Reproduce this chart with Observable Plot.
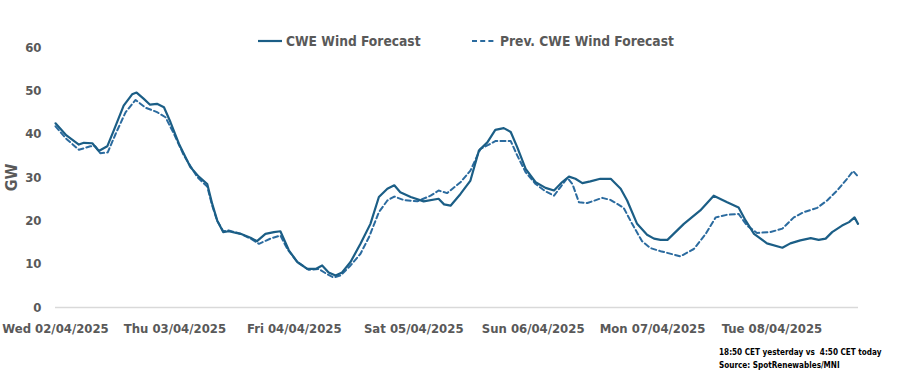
<!DOCTYPE html>
<html>
<head>
<meta charset="utf-8">
<script src="https://cdn.jsdelivr.net/npm/d3@7"></script>
<script src="https://cdn.jsdelivr.net/npm/@observablehq/plot@0.6"></script>
<style>
  body { margin: 0; background: #fff; }
  #wrap { position: relative; width: 900px; height: 373px; overflow: hidden;
          font-family: "Liberation Sans Narrow", "Arial Narrow", "DejaVu Sans Condensed", sans-serif; }
  .leg { position: absolute; top: 33px; display: flex; align-items: center; font-weight: bold;
         font-size: 13.7px; color: #595959; white-space: nowrap; }
  .leg svg { margin-right: 4px; }
  #caption { position: absolute; left: 719px; top: 346px; font-size: 8.1px; font-weight: bold;
             color: #000; line-height: 13px; white-space: pre; }
</style>
</head>
<body>
<div id="wrap">
  <div id="chart"></div>
  <div class="leg" id="leg1" style="left:258px"></div>
  <div class="leg" id="leg2" style="left:472px"></div>
  <div id="caption"></div>
</div>
<script>
// ---- Data (hours since Wed 02/04/2025 00:00, GW) ----
const seriesNames = ["CWE Wind Forecast", "Prev. CWE Wind Forecast"];
const startDate = "2025-04-02T00:00:00Z";
const dayTickHours = [0, 24, 48, 72, 96, 120, 144];
const endHour = 161.4;

const currHours = [0, 2.2, 4.7, 5.7, 7.4, 8.7, 10.4, 11.7, 13.7, 15.4, 16.3, 17.7, 19.0, 20.4, 21.8, 23.1,
  24.8, 27.1, 28.8, 30.5, 31.5, 32.5, 33.7, 34.8, 37.2, 39.2, 40.5, 42.2, 43.9, 45.2, 46.9, 48.6,
  50.6, 52.3, 53.6, 54.9, 56.3, 57.6, 59.3, 61.3, 63.3, 65.0, 66.7, 68.1, 69.3, 71.4, 74.0, 77.0,
  78.1, 79.4, 81.4, 83.4, 85.1, 86.8, 88.4, 90.1, 91.5, 92.8, 94.5, 96.5, 98.5, 100.2, 101.8, 103.2,
  104.5, 105.9, 107.5, 109.5, 111.6, 113.6, 114.9, 116.9, 118.9, 120.3, 121.6, 123.0, 126.3, 129.6,
  132.3, 135.0, 137.3, 138.7, 140.4, 143.0, 146.1, 147.7, 149.7, 151.8, 153.4, 154.8, 156.1, 158.1,
  159.5, 160.6, 161.3];
const currValues = [42.5, 39.7, 37.6, 38.0, 37.9, 36.1, 37.2, 40.8, 46.6, 49.2, 49.6, 48.2, 46.8, 47.0, 46.2, 42.8,
  37.8, 32.4, 30.2, 28.5, 23.9, 20.1, 17.4, 17.6, 17.0, 16.1, 15.3, 17.0, 17.4, 17.6, 13.2, 10.5,
  8.9, 8.9, 9.7, 8.1, 7.4, 8.1, 10.5, 14.7, 19.3, 25.5, 27.4, 28.2, 26.6, 25.5, 24.5, 25.1,
  23.8, 23.5, 26.2, 29.3, 36.2, 38.1, 41.0, 41.4, 40.5, 37.0, 32.0, 28.9, 27.6, 27.0, 28.9, 30.2,
  29.7, 28.7, 29.1, 29.7, 29.7, 27.4, 24.7, 19.3, 16.8, 15.9, 15.6, 15.6, 19.3, 22.4,
  25.8, 24.3, 23.1, 20.1, 17.0, 14.8, 13.8, 14.8, 15.5, 16.0, 15.6, 15.9, 17.4, 18.9,
  19.7, 20.8, 19.3];

const prevHours = [0, 2.2, 4.7, 7.0, 8.0, 9.0, 10.5, 12.1, 14.1, 16.1, 18.1, 20.4, 22.1, 23.8, 25.8, 28.5,
  30.5, 31.5, 32.5, 33.7, 34.8, 37.2, 39.2, 40.9, 43.2, 45.2, 46.6, 48.6, 50.9, 52.9, 54.3, 55.9,
  57.3, 59.3, 61.3, 63.0, 65.0, 66.7, 68.1, 70.0, 72.7, 75.4, 77.0, 78.7, 81.4, 83.4, 85.4, 86.8,
  88.4, 91.5, 92.8, 94.5, 96.5, 98.5, 100.2, 101.5, 102.9, 103.9, 105.2, 106.9, 109.9, 111.6, 114.2,
  115.9, 117.9, 119.6, 121.6, 122.3, 125.6, 128.3, 130.7, 132.7, 135.0, 137.3, 139.0, 141.0, 143.7,
  146.1, 148.4, 150.4, 153.1, 155.1, 157.1, 159.1, 160.3, 161.1];
const prevValues = [41.8, 38.9, 36.4, 37.2, 37.2, 35.6, 35.8, 40.1, 45.1, 47.9, 46.1, 45.1, 43.9, 40.1, 35.1, 30.1,
  27.9, 23.5, 20.0, 17.6, 17.8, 17.0, 15.9, 14.7, 15.9, 16.6, 13.5, 10.5, 8.7, 8.9, 7.9, 6.9,
  7.4, 9.7, 12.4, 16.2, 22.0, 24.7, 25.6, 24.8, 24.5, 25.8, 27.0, 26.4, 28.9, 31.6, 36.6, 37.4,
  38.4, 38.4, 35.1, 31.2, 28.5, 26.8, 25.8, 27.8, 29.9, 28.5, 24.3, 24.1, 25.3, 24.8, 23.0,
  19.3, 15.3, 13.7, 13.0, 12.8, 11.8, 13.5, 17.0, 20.8, 21.4, 21.6, 18.9, 17.2, 17.4,
  18.2, 20.8, 22.0, 23.0, 24.7, 27.0, 29.7, 31.5, 30.5];

const yTicks = [0, 10, 20, 30, 40, 50, 60];
const yLabel = "GW";
const captionLines = ["18:50 CET yesterday vs  4:50 CET today", "Source: SpotRenewables/MNI"];

// ---- Build ----
const t0 = new Date(startDate).getTime();
const toDate = h => new Date(t0 + h * 3600e3);
const curr = currHours.map((h, i) => ({date: toDate(h), value: currValues[i]}));
const prev = prevHours.map((h, i) => ({date: toDate(h), value: prevValues[i]}));

const colSolid = "#1b5e86";
const colDash = "#2b6b9f";
const fmt = d3.utcFormat("%a %d/%m/%Y");

const chart = Plot.plot({
  width: 900,
  height: 340,
  marginLeft: 55,
  marginRight: 42,
  marginTop: 47,
  marginBottom: 33,
  style: {fontFamily: '"Liberation Sans Narrow", "Arial Narrow", "DejaVu Sans Condensed", sans-serif',
          fontSize: "13px", fontWeight: "bold", color: "#595959", background: "#fff", overflow: "visible"},
  x: {type: "utc", domain: [toDate(0), toDate(endHour)]},
  y: {domain: [0, 60]},
  marks: [
    Plot.ruleY([0], {stroke: "#d9d9d9", strokeWidth: 1.3}),
    Plot.line(prev, {x: "date", y: "value", stroke: colDash, strokeWidth: 2, strokeDasharray: "5,3.2"}),
    Plot.line(curr, {x: "date", y: "value", stroke: colSolid, strokeWidth: 2.2}),
    Plot.axisY({ticks: yTicks, tickSize: 0, tickPadding: 14, label: yLabel, labelAnchor: "center",
                labelArrow: "none", labelOffset: 50, fontSize: 13}),
    Plot.axisX({ticks: dayTickHours.map(toDate), tickFormat: fmt, tickSize: 0, tickPadding: 16,
                label: null, fontSize: 13})
  ]
});
document.getElementById("chart").appendChild(chart);
// enlarge the y-axis label
chart.querySelectorAll("text").forEach(t => { if (t.textContent === yLabel) t.style.fontSize = "16px"; });

function legendItem(el, name, dashed, color) {
  el.innerHTML = `<svg width="24" height="6"><line x1="0" x2="24" y1="3" y2="3" stroke="${color}"
     stroke-width="2.2" ${dashed ? 'stroke-dasharray="5,3.2"' : ''}/></svg><span>${name}</span>`;
}
legendItem(document.getElementById("leg1"), seriesNames[0], false, colSolid);
legendItem(document.getElementById("leg2"), seriesNames[1], true, colDash);
document.getElementById("caption").textContent = captionLines.join("\n");
</script>
</body>
</html>
